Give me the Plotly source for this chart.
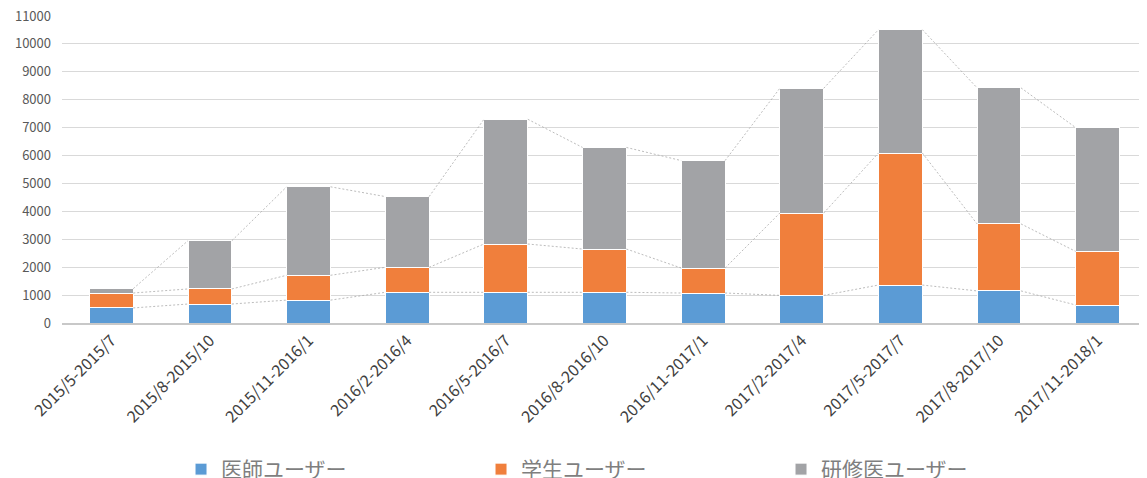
import plotly.graph_objects as go

categories = ["2015/5-2015/7", "2015/8-2015/10", "2015/11-2016/1", "2016/2-2016/4",
              "2016/5-2016/7", "2016/8-2016/10", "2016/11-2017/1", "2017/2-2017/4",
              "2017/5-2017/7", "2017/8-2017/10", "2017/11-2018/1"]
doctors = [540, 680, 820, 1100, 1100, 1100, 1075, 990, 1360, 1150, 645]
students = [535, 540, 890, 895, 1730, 1550, 895, 2950, 4730, 2400, 1920]
residents = [155, 1730, 3170, 2535, 4470, 3640, 3850, 4470, 4420, 4875, 4435]
series_names = ["医師ユーザー", "学生ユーザー", "研修医ユーザー"]
colors = ["#5B9BD5", "#F07F3C", "#A2A3A6"]
y_ticks = list(range(0, 11001, 1000))
y_ticktext = [str(v) for v in y_ticks]

series = [doctors, students, residents]
n = len(categories)
xs = list(range(n))
bar_w = 0.445

fig = go.Figure()

# series lines (connect segment tops between neighbouring bars)
cum = [0] * n
for vals in series:
    cum = [c + v for c, v in zip(cum, vals)]
    lx, ly = [], []
    for i in range(n - 1):
        lx += [xs[i] + bar_w / 2, xs[i + 1] - bar_w / 2, None]
        ly += [cum[i], cum[i + 1], None]
    fig.add_trace(go.Scatter(x=lx, y=ly, mode="lines", showlegend=False, hoverinfo="skip",
                             line=dict(color="#ABABAB", width=0.8, dash="2px,2px")))

for name, vals, col in zip(series_names, series, colors):
    fig.add_trace(go.Bar(x=xs, y=vals, name=name, width=bar_w,
                         marker=dict(color=col, line=dict(color="#FFFFFF", width=1))))

fig.update_layout(
    barmode="stack",
    width=1139, height=470,
    margin=dict(l=54, r=0, t=7, b=155, autoexpand=False),
    paper_bgcolor="white", plot_bgcolor="white",
    font=dict(family="Noto Sans CJK JP, sans-serif", color="#595959"),
    legend=dict(orientation="h", x=0.1097, xanchor="left", y=-0.4756, yanchor="middle",
                entrywidth=255, entrywidthmode="pixels", bgcolor="rgba(0,0,0,0)",
                font=dict(size=21, color="#7F7F7F"), itemwidth=30, traceorder="normal"),
    xaxis=dict(tickmode="array", tickvals=xs, ticktext=categories, range=[-0.5, n - 0.5],
               tickangle=-45, tickfont=dict(size=16, color="#404040"),
               showgrid=False, showline=True, linecolor="#C8C8C8", linewidth=1.5,
               zeroline=False, ticks="", automargin=False),
    yaxis=dict(range=[0, 11036], tickmode="array", tickvals=y_ticks, ticktext=y_ticktext,
               tickfont=dict(size=13, color="#595959"), ticklabeloverflow="allow",
               showgrid=True, gridcolor="#D9D9D9", gridwidth=1.3,
               zeroline=False, showline=False, ticklabelstandoff=10, automargin=False),
    bargap=0.5,
)

fig.write_html("out.html")
